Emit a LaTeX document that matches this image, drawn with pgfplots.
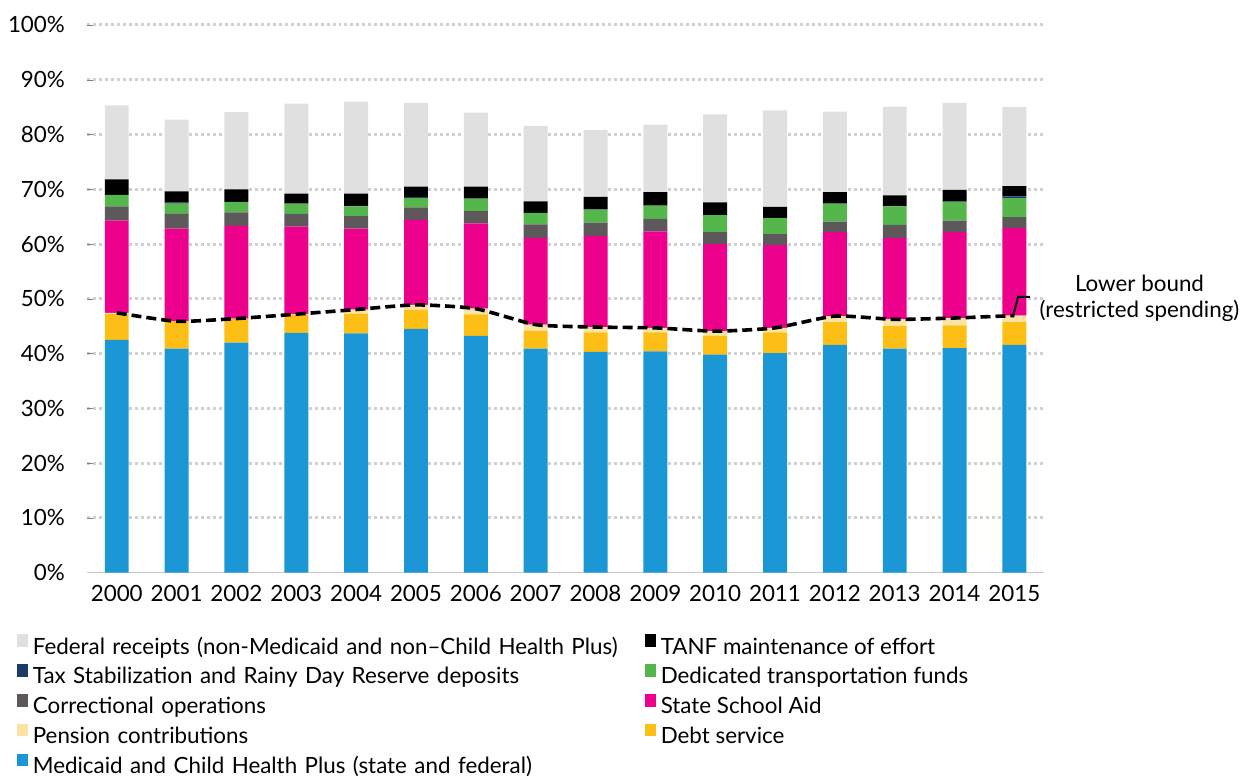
\documentclass[border=0pt]{standalone}
\usepackage{pgfplots}
\pgfplotsset{compat=1.18}
\usepackage{pgfplotstable}
\usepackage{fontspec}
\setmainfont{Lato}

\definecolor{cFed}{HTML}{E0E0E0}
\definecolor{cTanf}{HTML}{000000}
\definecolor{cTax}{HTML}{1B3C68}
\definecolor{cTrans}{HTML}{55B74B}
\definecolor{cCorr}{HTML}{5D5859}
\definecolor{cSchool}{HTML}{EC008C}
\definecolor{cPen}{HTML}{F9E3A5}
\definecolor{cDebt}{HTML}{FDBE16}
\definecolor{cMed}{HTML}{1A97D4}
\definecolor{cGrid}{HTML}{D0D0D0}

% shares of spending, percent
\pgfplotstableread{
x    med   debt pen  school corr trans tax  tanf fed  lb
2000 42.5  4.7  0.25 16.85  2.6  2.1   0    2.8  13.5 47.45
2001 40.9  5.0  0    16.9   2.7  1.9   0.15 2.05 13.1 45.9
2002 42.0  4.4  0    16.9   2.5  1.9   0    2.3  14.1 46.4
2003 43.8  3.3  0.1  16.0   2.3  1.9   0    1.8  16.45 47.2
2004 43.7  3.6  0.75 14.75  2.3  1.8   0    2.3  16.8 48.05
2005 44.5  3.55 0.85 15.5   2.3  1.7   0.2  1.9  15.3 48.9
2006 43.25 3.9  1.05 15.6   2.2  2.3   0    2.2  13.5 48.2
2007 40.9  3.3  1.1  15.8   2.5  2.1   0    2.1  13.8 45.3
2008 40.3  3.6  0.95 16.65  2.4  2.4   0.1  2.2  12.2 44.85
2009 40.4  3.5  0.8  17.6   2.3  2.4   0    2.5  12.3 44.7
2010 39.8  3.5  0.8  15.9   2.2  3.1   0    2.3  16.1 44.1
2011 40.1  3.8  0.8  15.1   2.0  3.0   0    2.0  17.6 44.7
2012 41.6  4.15 1.1  15.35  1.9  3.3   0    2.1  14.7 46.85
2013 40.9  4.1  1.25 14.85  2.4  3.4   0    2.0  16.2 46.25
2014 41.0  4.15 1.35 15.7   2.1  3.4   0.1  2.1  15.9 46.5
2015 41.6  4.15 1.2  15.95  2.0  3.5   0.3  1.9  14.4 46.95
}\spend

\pgfplotsset{
  sq/.style={draw=none, legend image code/.code={
      \fill[##1] (0pt,0.8pt) rectangle (5.8pt,7.2pt);
      \path (8.1pt,0pt);}},
  common/.style={
    width=479.4pt, height=274.25pt, scale only axis,
    xmin=1999.5, xmax=2015.5, ymin=0, ymax=100,
  },
}

\begin{document}
\begin{tikzpicture}
\begin{axis}[
  common,
  ybar stacked, bar width=12pt,
  clip=false,
  axis lines*=left,
  y axis line style={draw=none},
  x axis line style={draw=black!22, line width=0.6pt},
  major tick length=0pt,
  /pgf/number format/assume math mode=true,
  font=\fontsize{11.2}{13.4}\selectfont,
  xtick={2000,...,2015},
  xticklabel style={/pgf/number format/1000 sep=, inner sep=0pt, yshift=-6pt},
  ytick={0,10,...,100},
  yticklabel={\pgfmathprintnumber{\tick}\%},
  yticklabel style={inner sep=0pt, xshift=-10.8pt},
  minor ytick={10,20,...,100},
  yminorgrids,
  minor grid style={draw=cGrid, line width=1.5pt, dash pattern=on 1.5pt off 1.5pt},
  reverse legend,
  legend columns=2,
  legend cell align=left,
  legend style={at={(-0.0733,-0.1121)}, anchor=north west, draw=none, fill=none,
    inner sep=0pt, outer sep=0pt, column sep=0pt, row sep=2pt,
    font=\fontsize{11.2}{13.4}\selectfont,
    nodes={inner sep=0pt, text height=8.5pt, text depth=3pt},
    /tikz/column 2/.style={nodes={text width=306.3pt}}},
]
\addplot[fill=cMed, sq] table[x=x, y=med] {\spend};
\addlegendentry{Medicaid and Child Health Plus (state and federal)}
\addplot[fill=cDebt, sq] table[x=x, y=debt] {\spend};
\addlegendentry{Debt service}
\addplot[fill=cPen, sq] table[x=x, y=pen] {\spend};
\addlegendentry{Pension contributions}
\addplot[fill=cSchool, sq] table[x=x, y=school] {\spend};
\addlegendentry{State School Aid}
\addplot[fill=cCorr, sq] table[x=x, y=corr] {\spend};
\addlegendentry{Correctional operations}
\addplot[fill=cTrans, sq] table[x=x, y=trans] {\spend};
\addlegendentry{Dedicated transportation funds}
\addplot[fill=cTax, sq] table[x=x, y=tax] {\spend};
\addlegendentry{Tax Stabilization and Rainy Day Reserve deposits}
\addplot[fill=cTanf, sq] table[x=x, y=tanf] {\spend};
\addlegendentry{TANF maintenance of effort}
\addplot[fill=cFed, sq] table[x=x, y=fed] {\spend};
\addlegendentry{Federal receipts (non-Medicaid and non--Child Health Plus)}
\coordinate (bbl) at (rel axis cs:-0.0907,-0.3637);
\coordinate (btr) at (rel axis cs:1.2087,1.0456);
\end{axis}

\begin{axis}[common, hide axis, clip=false]
\addplot[black, line width=1.8pt, dash pattern=on 5pt off 2.5pt, smooth, tension=0.35]
  table[x=x, y=lb] {\spend};
\addplot[black, line width=1pt] coordinates {(2014.98,46.95) (2015.06,50.35) (2015.26,50.35)};
\node[align=center, font=\fontsize{11.2}{13.5}\selectfont]
  at (axis cs:2017.09,50.1) {Lower bound\\(restricted spending)};
\end{axis}
\path (bbl) rectangle (btr);
\end{tikzpicture}
\end{document}
